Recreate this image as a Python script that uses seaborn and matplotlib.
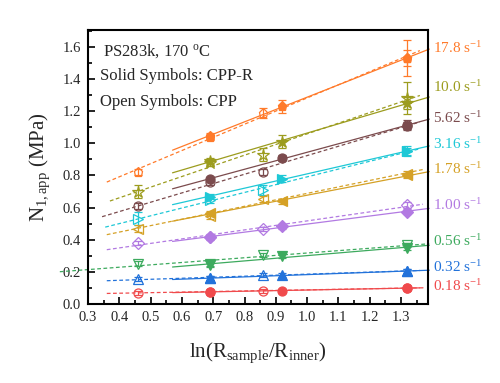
import numpy as np
import pandas as pd
import matplotlib
matplotlib.use("Agg")
import matplotlib.pyplot as plt
import seaborn as sns
from matplotlib.ticker import MultipleLocator

# shear rates, one series each (top to bottom)
rates = ["17.8", "10.0", "5.62", "3.16", "1.78", "1.00", "0.56", "0.32", "0.18"]
colors = ["#FF7A2A", "#9C9C1E", "#7B4B4D", "#1EC8D6", "#D5A126",
          "#B27AE2", "#3DAA5E", "#2272DA", "#F04A4C"]
markers = ["p", "*", "o", ">", "<", "D", "v", "^", "o"]

# CPP (open symbols)
x_open = [0.46, 0.69, 0.86, 1.32]
y_open = [
    [0.82, 1.04, 1.19, 1.53],
    [0.70, 0.88, 0.93, 1.28],
    [0.61, 0.76, 0.82, 1.115],
    [0.53, 0.65, 0.71, 0.95],
    [0.47, 0.55, 0.655, 0.81],
    [0.38, 0.42, 0.467, 0.615],
    [0.25, 0.25, 0.305, 0.367],
    [0.155, 0.16, 0.18, 0.207],
    [0.07, 0.078, 0.083, 0.10],
]
err_open = [
    [0.02, 0.02, 0.03, 0.11],
    [0.04, 0.02, 0.04, 0.10],
    [0.02, 0.02, 0.02, 0.03],
    [0.04, 0.02, 0.03, 0.03],
    [0.02, 0.02, 0.02, 0.02],
    [0.015, 0.015, 0.015, 0.02],
    [0.015, 0.015, 0.015, 0.015],
    [0.012, 0.012, 0.012, 0.012],
    [0.012, 0.012, 0.012, 0.012],
]

# CPP-R (solid symbols)
x_fill = [0.69, 0.92, 1.32]
y_fill = [
    [1.046, 1.23, 1.53],
    [0.89, 1.01, 1.25],
    [0.775, 0.91, 1.11],
    [0.668, 0.78, 0.95],
    [0.565, 0.64, 0.80],
    [0.415, 0.485, 0.575],
    [0.243, 0.30, 0.35],
    [0.16, 0.18, 0.205],
    [0.077, 0.083, 0.10],
]
err_fill = [
    [0.02, 0.04, 0.05],
    [0.02, 0.04, 0.04],
    [0.015, 0.02, 0.02],
    [0.015, 0.02, 0.02],
    [0.015, 0.015, 0.015],
    [0.015, 0.015, 0.015],
    [0.015, 0.015, 0.015],
    [0.012, 0.012, 0.012],
    [0.012, 0.012, 0.012],
]

# y where each rate label sits at the right
label_y = [1.594, 1.35, 1.158, 0.996, 0.84, 0.616, 0.394, 0.23, 0.112]

# extent of fit lines
solid_span = [(0.57, 1.39)] * 8 + [(0.57, 1.37)]
dash_span = [(0.36, 1.36), (0.37, 1.36), (0.345, 1.36), (0.355, 1.36),
             (0.36, 1.37), (0.36, 1.37), (0.21, 1.39), (0.36, 1.36), (0.36, 1.36)]

sns.set_style("ticks")
plt.rcParams["font.family"] = ["Liberation Serif", "DejaVu Serif"]
plt.rcParams["mathtext.fontset"] = "custom"
plt.rcParams["mathtext.rm"] = "Liberation Serif"
plt.rcParams["mathtext.it"] = "Liberation Serif:italic"

fig = plt.figure(figsize=(5, 3.83), dpi=100)
ax = fig.add_axes([0.176, 0.206, 0.68, 0.716])

for i, r in enumerate(rates):
    c = colors[i]
    m = markers[i]
    ms = 9 if m == "*" else 6.5
    # linear fits
    k, b = np.polyfit(x_open, y_open[i], 1)
    xs = np.array(dash_span[i])
    ax.plot(xs, k * xs + b, ls=(0, (3, 2)), color=c, lw=0.9, clip_on=False)
    k, b = np.polyfit(x_fill, y_fill[i], 1)
    xs = np.array(solid_span[i])
    ax.plot(xs, k * xs + b, ls="-", color=c, lw=0.9, clip_on=False)
    # points
    ax.errorbar(x_open, y_open[i], yerr=err_open[i], fmt=m, color=c, mfc="none",
                mec=c, ms=ms, mew=0.9, elinewidth=0.9, capsize=3, zorder=3)
    ax.errorbar(x_fill, y_fill[i], yerr=err_fill[i], fmt=m, color=c, mfc=c,
                mec=c, ms=ms, mew=0.9, elinewidth=0.9, capsize=3, zorder=4)
    ax.text(1.402, label_y[i], r + r" s$^{\mathrm{-1}}$", color=c, fontsize=11,
            va="center", ha="left", clip_on=False)

ax.set_xlim(0.3, 1.386)
ax.set_ylim(0.0, 1.705)
ax.xaxis.set_major_locator(MultipleLocator(0.1))
ax.xaxis.set_minor_locator(MultipleLocator(0.05))
ax.yaxis.set_major_locator(MultipleLocator(0.2))
ax.yaxis.set_minor_locator(MultipleLocator(0.1))
ax.xaxis.set_major_formatter(matplotlib.ticker.FormatStrFormatter("%.1f"))
ax.yaxis.set_major_formatter(matplotlib.ticker.FormatStrFormatter("%.1f"))
ax.tick_params(which="both", direction="in", top=False, right=False,
               labelsize=10.5, width=1.2, color="black", pad=5)
ax.tick_params(which="major", length=5)
ax.tick_params(which="minor", length=3)
for s in ax.spines.values():
    s.set_visible(True)
    s.set_linewidth(1.5)
    s.set_color("black")

ax.set_xlabel(r"ln(R$_{\mathrm{sample}}$/R$_{\mathrm{inner}}$)", fontsize=15, labelpad=12)
ax.set_ylabel(r"N$_{\mathrm{1,app}}$ (MPa)", fontsize=15, labelpad=8)

ax.text(0.045, 0.955, r"PS283k, 170 $^{\mathrm{o}}$C", transform=ax.transAxes,
        fontsize=12, va="top")
ax.text(0.035, 0.86, "Solid Symbols: CPP-R", transform=ax.transAxes,
        fontsize=12, va="top")
ax.text(0.035, 0.765, "Open Symbols: CPP", transform=ax.transAxes,
        fontsize=12, va="top")

fig.savefig("out.png", dpi=100)
